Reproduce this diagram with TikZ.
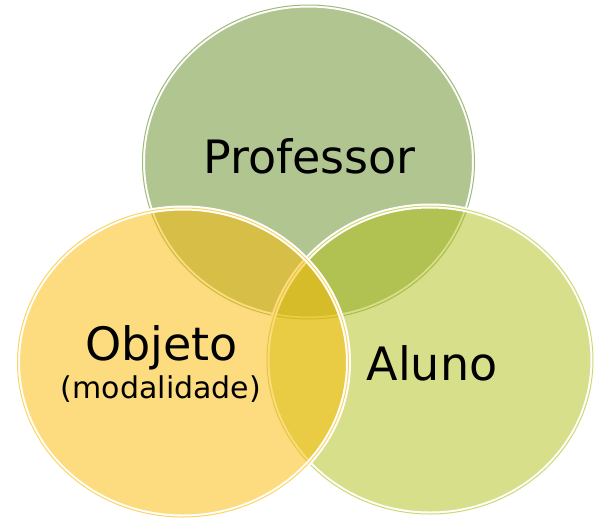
\documentclass[tikz,border=0pt]{standalone}
\usepackage{fontspec}
\setmainfont{DejaVu Sans}
\definecolor{profgreen}{RGB}{99, 139, 35}
\definecolor{alunolime}{RGB}{177, 191, 21}
\definecolor{objgold}{RGB}{251, 185, 0}
\usepackage{tikz}
\usetikzlibrary{shapes, positioning}

\begin{document}
\begin{tikzpicture}[x=1pt, y=-1pt,
    venn/.style={ellipse, inner sep=0pt, fill=#1, fill opacity=0.5,
      postaction={draw=white, line width=5pt},
      postaction={draw=#1, draw opacity=0.6, line width=1pt}},
    bigtxt/.style={anchor=base, inner sep=0pt, font=\fontsize{46}{50}\selectfont},
    smalltxt/.style={anchor=base, inner sep=0pt, font=\fontsize{30}{34}\selectfont}]
  \useasboundingbox (0,0) rectangle (594,520);
  % the three sets
  \node[venn=profgreen, minimum width=332pt, minimum height=314pt] (prof) at (308.5,162) {};
  \node[venn=alunolime, minimum width=326pt, minimum height=308pt] (aluno) at (430,360) {};
  \node[venn=objgold, minimum width=331pt, minimum height=309pt] (objeto) at (183,362.5) {};
  % labels
  \node[bigtxt] (proftxt) at (309.5,173) {Professor};
  \node[bigtxt] (alunotxt) at (432,380) {Aluno};
  \node[bigtxt] (objtxt) at (161.5,360) {Objeto};
  \node[smalltxt] (modtxt) at (161,398) {(modalidade)};
\end{tikzpicture}
\end{document}
